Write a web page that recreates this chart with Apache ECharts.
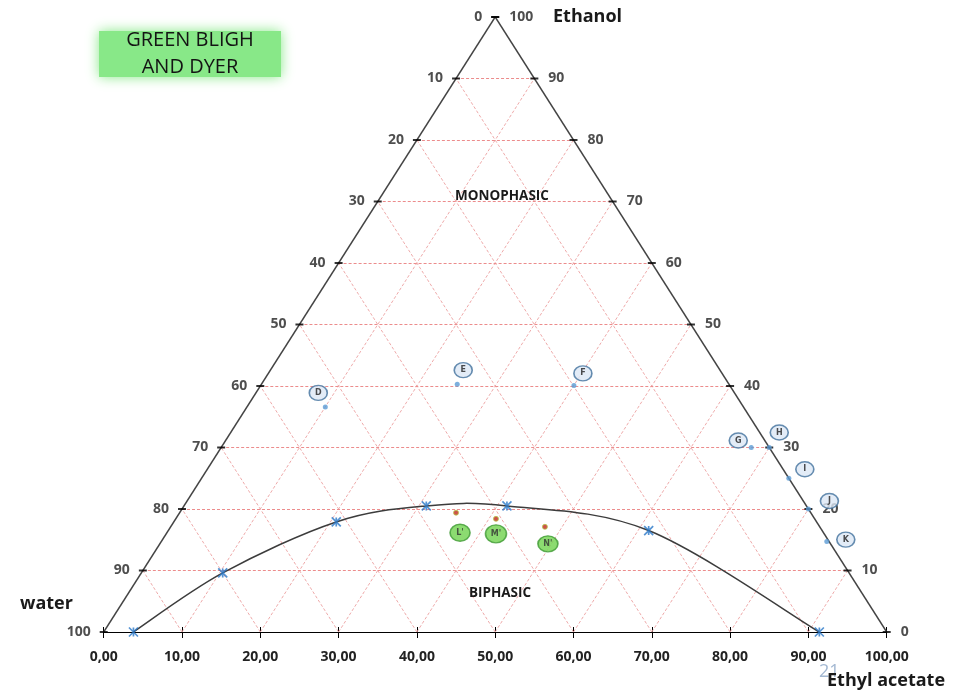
<!DOCTYPE html>
<html>
<head>
<meta charset="utf-8">
<script src="https://cdn.jsdelivr.net/npm/echarts@6/dist/echarts.min.js"></script>
<style>
  html, body { margin: 0; padding: 0; background: #ffffff; }
  #chart { width: 966px; height: 692px; }
</style>
</head>
<body>
<div id="chart"></div>
<script>
// Ternary phase diagram water / ethanol / ethyl acetate (%)
// Compositions are given as [ethyl acetate %, ethanol %]; water is the remainder.

const gridValues = [10, 20, 30, 40, 50, 60, 70, 80, 90];
const sideValues = [0, 10, 20, 30, 40, 50, 60, 70, 80, 90, 100];

// Solvent mixtures tested (monophasic region)
const sampleNames = ['D', 'E', 'F', 'G', 'H', 'I', 'J', 'K'];
const sampleEthylAcetate = [10, 25, 40, 67.7, 70, 75, 80, 85];
const sampleEthanol = [36.6, 40.3, 40.1, 30, 30, 25, 20, 14.7];

// Mixtures in the biphasic region
const mixNames = ["L'", "M'", "N'"];
const mixEthylAcetate = [35.3, 40.9, 47.8];
const mixEthanol = [19.4, 18.4, 17.1];

// Binodal (cloud point) curve
const binodalEthylAcetate = [3.8, 10.4, 20.75, 30.95, 41.25, 61.35, 91.4];
const binodalEthanol = [0, 9.6, 17.9, 20.5, 20.5, 16.5, 0];

// ---- geometry helpers: ternary composition -> plane coordinates ----
function toXY(ethylAcetate, ethanol) {
  return [ethylAcetate + ethanol / 2, ethanol];
}

const tickFont = { fontFamily: 'Open Sans', fontWeight: 'bold', fontSize: 14, color: '#222222' };

// grid lines parallel to each side
const levelLines = [];
const slantLines = [];
gridValues.forEach(v => {
  levelLines.push({ coords: [toXY(0, v), toXY(100 - v, v)] });      // constant ethanol
  slantLines.push({ coords: [toXY(v, 0), toXY(v, 100 - v)] });       // constant ethyl acetate
  slantLines.push({ coords: [toXY(100 - v, 0), toXY(0, 100 - v)] }); // constant water
});

const edgeLines = [
  { coords: [toXY(0, 0), toXY(0, 100)] },
  { coords: [toXY(100, 0), toXY(0, 100)] }
];

// left side: water %, right side: ethanol %
const leftTicks = sideValues.map(w => ({ name: String(w), value: toXY(0, 100 - w) }));
const rightTicks = sideValues.map(e => ({ name: String(e), value: toXY(100 - e, e) }));

const calloutOffsets = {
  D: [-7, -14], E: [6, -14], F: [9, -12], G: [-13, -7],
  H: [10, -15], I: [16, -9], J: [21, -8], K: [19, -2]
};
const mixOffsets = { "L'": [4, 20], "M'": [0, 15], "N'": [3, 17] };
const mixSizes = { "L'": [20, 17], "M'": [21, 18], "N'": [20, 16] };

const samplePoints = sampleNames.map((n, i) => ({ name: n, value: toXY(sampleEthylAcetate[i], sampleEthanol[i]) }));
const mixPoints = mixNames.map((n, i) => ({ name: n, value: toXY(mixEthylAcetate[i], mixEthanol[i]) }));
const binodalPoints = binodalEthylAcetate.map((a, i) => toXY(a, binodalEthanol[i]));

// Smooth curve through the binodal points (Catmull-Rom as cubic Béziers, in pixel space)
function renderBinodal(params, api) {
  if (params.dataIndex !== 0) return null;
  const p = binodalPoints.map(v => api.coord(v));
  const n = p.length;
  let d = 'M' + p[0][0] + ',' + p[0][1];
  for (let i = 0; i < n - 1; i++) {
    const p0 = p[Math.max(i - 1, 0)], p1 = p[i], p2 = p[i + 1], p3 = p[Math.min(i + 2, n - 1)];
    const c1 = [p1[0] + (p2[0] - p0[0]) / 6, p1[1] + (p2[1] - p0[1]) / 6];
    const c2 = [p2[0] - (p3[0] - p1[0]) / 6, p2[1] - (p3[1] - p1[1]) / 6];
    d += 'C' + c1[0] + ',' + c1[1] + ' ' + c2[0] + ',' + c2[1] + ' ' + p2[0] + ',' + p2[1];
  }
  return {
    type: 'path',
    shape: { pathData: d },
    style: { fill: null, stroke: '#3c3c3c', lineWidth: 1.5 }
  };
}

const chart = echarts.init(document.getElementById('chart'));

chart.setOption({
  backgroundColor: '#ffffff',
  animation: false,
  grid: { left: 103.7, right: 79.3, top: 17, bottom: 60 },
  xAxis: [
    {
      type: 'value', min: 0, max: 100, interval: 10,
      axisLine: { show: true, lineStyle: { color: '#000', width: 1.2 } },
      axisTick: { show: true, length: 6, lineStyle: { color: '#000', width: 1 } },
      axisLabel: {
        margin: 18,
        formatter: v => v.toFixed(2).replace('.', ','),
        ...tickFont
      },
      splitLine: { show: false }
    },
    {
      type: 'value', min: 0, max: 100, interval: 10, position: 'bottom',
      axisLine: { show: false },
      axisTick: { show: true, inside: true, length: 5, lineStyle: { color: '#000', width: 1 } },
      axisLabel: { show: false },
      splitLine: { show: false }
    }
  ],
  yAxis: {
    type: 'value', min: 0, max: 100, show: false
  },
  graphic: [
    {
      type: 'rect', left: 99, top: 31, z: 1,
      shape: { width: 182, height: 46 },
      style: { fill: '#88e888', shadowBlur: 12, shadowColor: '#88e888' }
    },
    {
      type: 'text', z: 2,
      style: {
        text: 'GREEN BLIGH\nAND DYER', x: 190, y: 54, align: 'center', verticalAlign: 'middle',
        fontFamily: 'Open Sans', fontSize: 20, lineHeight: 27, fill: '#141414'
      }
    },
    {
      type: 'text', z: 2,
      style: { text: 'MONOPHASIC', x: 502, y: 196, align: 'center', verticalAlign: 'middle',
        fontFamily: 'Open Sans', fontWeight: 'bold', fontSize: 13.5, fill: '#1a1a1a' }
    },
    {
      type: 'text', z: 2,
      style: { text: 'BIPHASIC', x: 500, y: 593, align: 'center', verticalAlign: 'middle',
        fontFamily: 'Open Sans', fontWeight: 'bold', fontSize: 13.5, fill: '#1a1a1a' }
    },
    {
      type: 'text', z: 2,
      style: { text: 'Ethanol', x: 553, y: 17, verticalAlign: 'middle',
        fontFamily: 'Open Sans', fontWeight: 'bold', fontSize: 18, fill: '#1a1a1a' }
    },
    {
      type: 'text', z: 2,
      style: { text: 'water', x: 20, y: 604, verticalAlign: 'middle',
        fontFamily: 'Open Sans', fontWeight: 'bold', fontSize: 18, fill: '#1a1a1a' }
    },
    {
      type: 'text', z: 2,
      style: { text: '21', x: 819, y: 672, verticalAlign: 'middle',
        fontFamily: 'Open Sans', fontSize: 18, fill: '#a3b8d2' }
    },
    {
      type: 'text', z: 3,
      style: { text: 'Ethyl acetate', x: 827, y: 681, verticalAlign: 'middle',
        fontFamily: 'Open Sans', fontWeight: 'bold', fontSize: 18, fill: '#1a1a1a' }
    }
  ],
  series: [
    {
      type: 'lines', coordinateSystem: 'cartesian2d', z: 1, silent: true,
      lineStyle: { color: '#eeaaaa', width: 1, type: [3, 2], opacity: 1 },
      data: slantLines
    },
    {
      type: 'lines', coordinateSystem: 'cartesian2d', z: 1, silent: true,
      lineStyle: { color: '#ec8c8c', width: 1, type: [3, 2], opacity: 1 },
      data: levelLines
    },
    {
      type: 'lines', coordinateSystem: 'cartesian2d', z: 3, silent: true,
      lineStyle: { color: '#444444', width: 1.4, opacity: 1 },
      data: edgeLines
    },
    {
      type: 'scatter', z: 4, silent: true,
      symbol: 'rect', symbolSize: [8, 2],
      itemStyle: { color: '#000' },
      label: { show: true, position: 'left', distance: 9, formatter: p => p.name, ...tickFont },
      data: leftTicks
    },
    {
      type: 'scatter', z: 4, silent: true,
      symbol: 'rect', symbolSize: [8, 2],
      itemStyle: { color: '#000' },
      label: { show: true, position: 'right', distance: 10, formatter: p => p.name, ...tickFont },
      data: rightTicks
    },
    {
      type: 'custom', z: 5, silent: true,
      renderItem: renderBinodal,
      data: binodalPoints
    },
    {
      type: 'scatter', z: 6, silent: true,
      symbol: 'path://M0,0L10,10M10,0L0,10M5,0L5,10',
      symbolSize: 9,
      itemStyle: { color: 'rgba(0,0,0,0)', borderColor: '#2a78c8', borderWidth: 1.7 },
      data: binodalPoints
    },
    {
      // callout bubbles for the tested mixtures
      type: 'scatter', z: 6, silent: true,
      symbol: 'circle', symbolSize: [18, 15],
      itemStyle: { color: '#dce7f5', borderColor: '#41719c', borderWidth: 1.5 },
      label: { show: true, position: 'inside', formatter: p => p.name,
        fontFamily: 'DejaVu Sans', fontSize: 8, fontWeight: 'bold', color: '#222' },
      data: samplePoints.map(p => ({ ...p, symbolOffset: calloutOffsets[p.name] }))
    },
    {
      type: 'scatter', z: 7, silent: true,
      symbol: 'circle', symbolSize: 5,
      itemStyle: { color: '#5b9bd5' },
      data: samplePoints
    },
    {
      type: 'scatter', z: 6, silent: true,
      symbol: 'circle',
      itemStyle: { color: '#6fd24e', borderColor: '#3f9a33', borderWidth: 1.5 },
      label: { show: true, position: 'inside', formatter: p => p.name,
        fontFamily: 'DejaVu Sans', fontSize: 8, fontWeight: 'bold', color: '#333' },
      data: mixPoints.map(p => ({ ...p, symbolOffset: mixOffsets[p.name], symbolSize: mixSizes[p.name] }))
    },
    {
      type: 'scatter', z: 7, silent: true,
      symbol: 'circle', symbolSize: 5,
      itemStyle: { color: '#c0281c', borderColor: '#b5c94a', borderWidth: 1 },
      data: mixPoints
    }
  ]
});
</script>
</body>
</html>
